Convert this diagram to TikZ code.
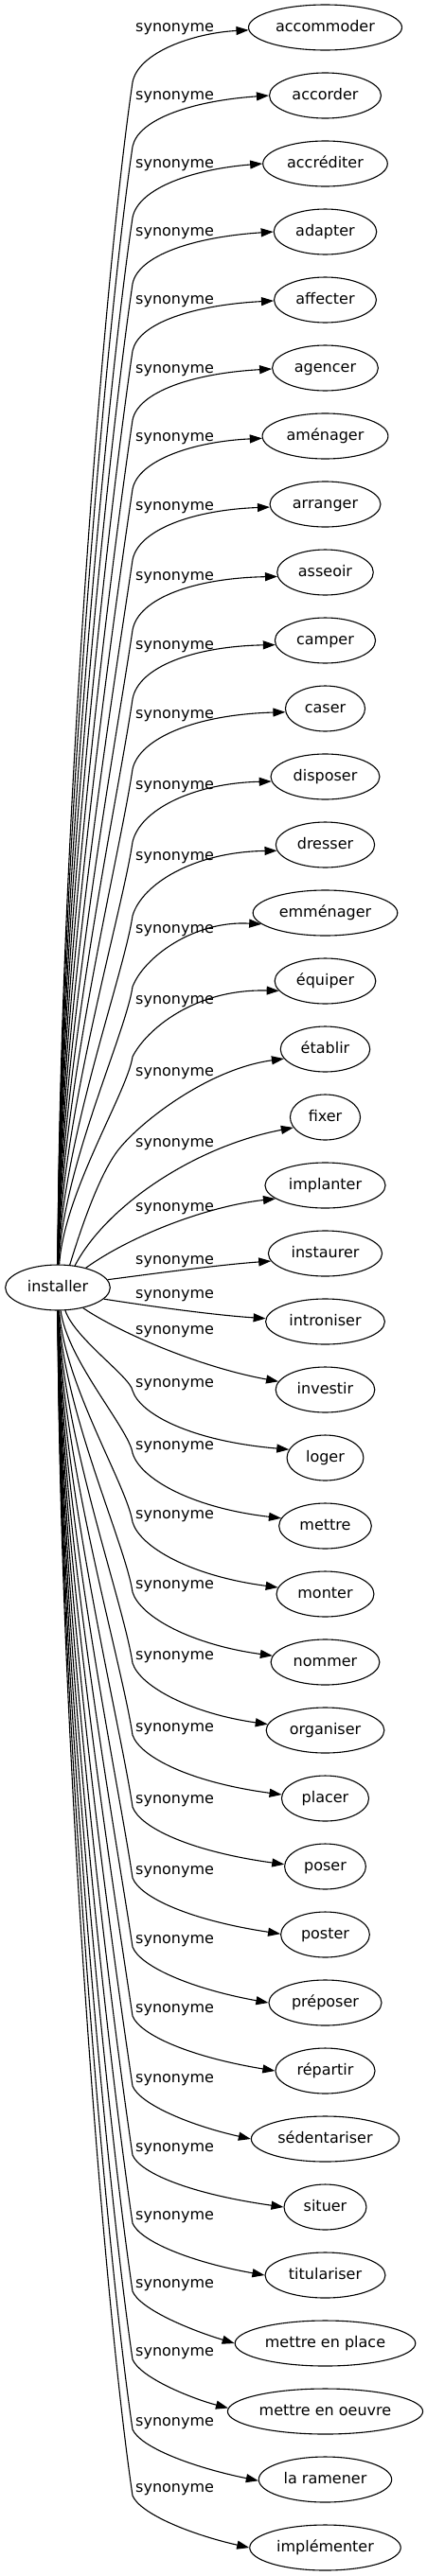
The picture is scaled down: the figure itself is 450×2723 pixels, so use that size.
\documentclass[tikz,border=0pt]{standalone}
\usepackage{fontspec}
\setmainfont{DejaVu Sans}
\usetikzlibrary{arrows.meta,calc,shapes.geometric}
\tikzset{
  term/.style={draw, ellipse, line width=1.1pt, inner sep=0pt, minimum height=48pt,
    text height=12pt, text depth=3.5pt, font=\fontsize{16pt}{19pt}\selectfont},
  rel/.style={anchor=base west, inner sep=0pt, font=\fontsize{16pt}{19pt}\selectfont},
  link/.style={line width=1.1pt, -{Triangle[length=13pt,width=9pt]}},
}
\newcommand\linkto[3]{%
  \draw[link] let \p1=($(n#2.east)-(n#2.west)$),
    \n1={int(round(180+atan((#3)/(0.5*\x1*sqrt(1-((#3)/24)^2)))))} in #1 (n#2.\n1);}
\begin{document}
\begin{tikzpicture}[x=1pt,y=-1pt]
\fontsize{16pt}{19pt}\selectfont
\fill[white] (0,0) rectangle (450,2723);
\useasboundingbox (0,0) rectangle (450,2723);
\pgfmathsetmacro\wi{1.27*width("installer")+29}
\node[term, minimum width=\wi pt] (inst) at (61,1361) {installer};
\foreach \t [count=\i from 0] in {accommoder,accorder,accréditer,adapter,affecter,agencer,aménager,arranger,asseoir,camper,caser,disposer,dresser,emménager,équiper,établir,fixer,implanter,instaurer,introniser,investir,loger,mettre,monter,nommer,organiser,placer,poser,poster,préposer,répartir,sédentariser,situer,titulariser,mettre en place,mettre en oeuvre,la ramener,implémenter}{
  \pgfmathsetmacro\w{1.27*width("\t")+29}
  \node[term, minimum width=\w pt] (n\i) at (343.5,{29+72*\i}) {\t};
}
\foreach \i/\L in {0/29,1/101,2/173,3/245,4/317,5/390,6/462,7/535,8/609,9/682,10/755,11/830,12/905,13/982,14/1057,15/1133,16/1208,17/1276,18/1332,19/1368,20/1406,21/1462,22/1528,23/1601,24/1675,25/1750,26/1826,27/1902,28/1977,29/2050,30/2123,31/2197,32/2270,33/2342,34/2414,35/2486,36/2560,37/2630}{
  \node[rel] (l\i) at (143,{\L+4.5}) {synonyme};
}
% upper edges
\foreach \i/\bb/\qq/\rr/\dd in {0/58/6/0.55/3,1/54/6/0.55/0,2/57/6/0.55/0,3/55/6/0.55/0,4/54/6/0.55/1,5/55/6/0.55/1,6/56/6/0.55/2,7/59/6/0.55/3,8/61/6/0.55/4,9/62/6/0.55/5,10/64/7/0.5/4,11/69/8/0.5/5,12/75/10/0.45/6,13/78/12/0.4/12,14/80/14/0.35/10}{
  \pgfmathsetmacro\T{29+72*\i}
  \pgfmathsetmacro\By{\T+\bb}
  \pgfmathsetmacro\D{1337-\By}
  \pgfmathsetmacro\Pax{61+1500/\D}
  \pgfmathsetmacro\Pay{1337-0.35*\D}
  \pgfmathsetmacro\Pbx{140-0.025*\D}
  \pgfmathsetmacro\Pby{\By+0.17*\D}
  \pgfmathsetmacro\Qax{140+\qq}
  \pgfmathsetmacro\Qay{\By-\rr*\bb}
  \pgfmathsetmacro\Qby{\T+0.1*\bb}
  \linkto{(inst) .. controls (\Pax,\Pay) and (\Pbx,\Pby) .. (140,\By) .. controls (\Qax,\Qay) and (205,\Qby) ..}{\i}{\dd}
}
% middle edges
\linkto{(inst.62) .. controls (88,1290) and (108,1235) .. (127,1213) .. controls (150,1185) and (220,1130) ..}{15}{10}
\linkto{(inst.52) .. controls (112,1275) and (205,1212) ..}{16}{11}
\linkto{(inst.35) .. controls (140,1305) and (220,1275) ..}{17}{14}
\linkto{(inst.9) .. controls (150,1348) and (230,1337) ..}{18}{8}
\linkto{(inst.346) .. controls (160,1381) and (225,1390) ..}{19}{-3}
\linkto{(inst.321) .. controls (125,1408) and (210,1445) ..}{20}{-9}
% lower edges
\foreach \i/\L/\dd in {21/1462/-9,22/1528/-8,23/1601/-7,24/1675/-7,25/1750/-6,26/1826/-4,27/1902/-2,28/1977/-1,29/2050/0,30/2123/0,31/2197/0,32/2270/0,33/2342/0,34/2414/0,35/2486/-3,36/2560/1,37/2630/0}{
  \pgfmathsetmacro\T{29+72*\i}
  \pgfmathsetmacro\By{\L+8}
  \pgfmathsetmacro\bb{\T-\By}
  \pgfmathsetmacro\D{\By-1385}
  \pgfmathsetmacro\Pax{61+1500/\D}
  \pgfmathsetmacro\Pay{1385+0.35*\D}
  \pgfmathsetmacro\Pbx{140-0.025*\D}
  \pgfmathsetmacro\Pby{\By-0.17*\D}
  \pgfmathsetmacro\Qay{\By+0.35*\bb}
  \pgfmathsetmacro\Qby{\T-0.25*\bb}
  \linkto{(inst) .. controls (\Pax,\Pay) and (\Pbx,\Pby) .. (140,\By) .. controls (148,\Qay) and (202,\Qby) ..}{\i}{\dd}
}
\end{tikzpicture}
\end{document}
